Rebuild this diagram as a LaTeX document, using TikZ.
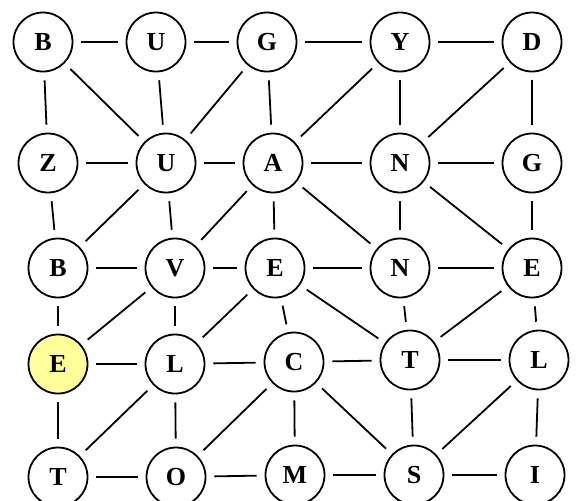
\documentclass[tikz,border=0pt]{standalone}
\usepackage{fontspec}
\setmainfont{Liberation Serif}
\usetikzlibrary{arrows}
\tikzset{
every node/.style={circle, draw, line width=0.9pt, minimum size=29.5pt, inner sep=0pt, font=\fontsize{13}{13}\selectfont\bfseries},
every path/.style={line width=0.9pt},
gap/.style={shorten >=4pt, shorten <=4pt}
}
\begin{document}
\begin{tikzpicture}[x=0.5pt,y=-0.5pt]
\useasboundingbox (0,0) rectangle (577,500);
% first row
\node (b1) at (43,42) {B};
\node (u1) at (156,42) {U};
\node (g1) at (267,42) {G};
\node (y1) at (400,42) {Y};
\node (d1) at (532,42) {D};
% second row
\node (z2) at (48,163) {Z};
\node (u2) at (166,163) {U};
\node (a2) at (273,163) {A};
\node (n2) at (400,163) {N};
\node (g2) at (532,163) {G};
% third row
\node (b3) at (58,268) {B};
\node (v3) at (175,268) {V};
\node (e3) at (275,268) {E};
\node (n3) at (400,268) {N};
\node (e5) at (532,268) {E};
% fourth row
\node[fill={rgb,255:red,255;green,255;blue,153}] (e4) at (58,364) {E};
\node (l4) at (175,364) {L};
\node (c4) at (294,362) {C};
\node (t4) at (410,360) {T};
\node (l5) at (539,360) {L};
% fifth row
\node (t5) at (58,477) {T};
\node (o5) at (176,477) {O};
\node (m5) at (295,475) {M};
\node (s5) at (414,475) {S};
\node (i5) at (535,475) {I};

\draw[gap] (b1) -- (u1);
\draw[gap] (u1) -- (g1);
\draw[gap] (g1) -- (y1);
\draw[gap] (y1) -- (d1);
\draw[gap] (b1) -- (z2);
\draw[gap] (b1) -- (u2);
\draw[gap] (u1) -- (u2);
\draw[gap] (g1) -- (u2);
\draw[gap] (g1) -- (a2);
\draw[gap] (y1) -- (a2);
\draw[gap] (y1) -- (n2);
\draw[gap] (d1) -- (n2);
\draw[gap] (d1) -- (g2);

\draw[gap] (z2) -- (u2);
\draw[gap] (u2) -- (a2);
\draw[gap] (a2) -- (n2);
\draw[gap] (n2) -- (g2);
\draw[gap] (z2) -- (b3);
\draw[gap] (u2) -- (b3);
\draw[gap] (u2) -- (v3);
\draw[gap] (a2) -- (v3);
\draw[gap] (a2) -- (e3);
\draw[gap] (a2) -- (n3);
\draw[gap] (n2) -- (n3);
\draw[gap] (n2) -- (e5);
\draw[gap] (g2) -- (e5);

\draw[gap] (b3) -- (v3);
\draw[gap] (v3) -- (e3);
\draw[gap] (e3) -- (n3);
\draw[gap] (n3) -- (e5);
\draw[gap] (b3) -- (e4);
\draw[gap] (v3) -- (e4);
\draw[gap] (v3) -- (l4);
\draw[gap] (e3) -- (l4);
\draw[gap] (e3) -- (c4);
\draw[gap] (e3) -- (t4);
\draw[gap] (n3) -- (t4);
\draw[gap] (e5) -- (t4);
\draw[gap] (e5) -- (l5);

\draw[gap] (e4) -- (l4);
\draw[gap] (l4) -- (c4);
\draw[gap] (c4) -- (t4);
\draw[gap] (t4) -- (l5);
\draw[gap] (e4) -- (t5);
\draw[gap] (l4) -- (t5);
\draw[gap] (l4) -- (o5);
\draw[gap] (c4) -- (o5);
\draw[gap] (c4) -- (m5);
\draw[gap] (c4) -- (s5);
\draw[gap] (t4) -- (s5);
\draw[gap] (l5) -- (s5);
\draw[gap] (l5) -- (i5);

\draw[gap] (t5) -- (o5);
\draw[gap] (o5) -- (m5);
\draw[gap] (m5) -- (s5);
\draw[gap] (s5) -- (i5);
\end{tikzpicture}
\end{document}
